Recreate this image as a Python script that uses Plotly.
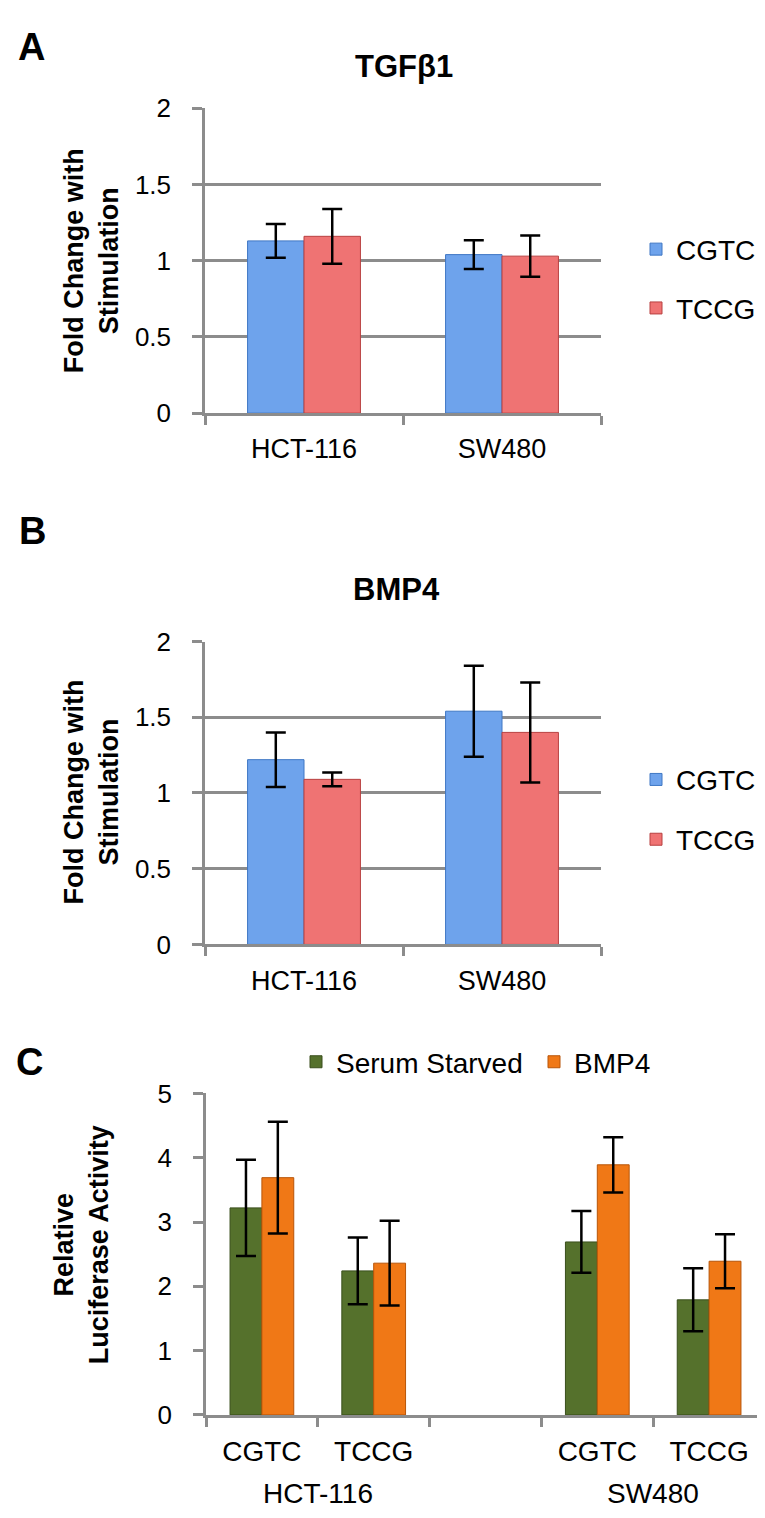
import plotly.graph_objects as go

W, H = 765, 1518
FONT = "Liberation Sans, Arial, sans-serif"

# ---------------- data ----------------
cells = ["HCT-116", "SW480"]

# Panel A: TGFb1
tgf_cgtc = [1.13, 1.04]
tgf_cgtc_err = [0.11, 0.095]
tgf_tccg = [1.16, 1.03]
tgf_tccg_err = [0.18, 0.135]

# Panel B: BMP4
bmp_cgtc = [1.22, 1.54]
bmp_cgtc_err = [0.18, 0.30]
bmp_tccg = [1.09, 1.40]
bmp_tccg_err = [0.045, 0.33]

# Panel C: luciferase
c_categories = ["HCT-116 CGTC", "HCT-116 TCCG", " ", "SW480 CGTC", "SW480 TCCG"]
c_ticktext = ["CGTC", "TCCG", "", "CGTC", "TCCG"]
c_groups = ["HCT-116", "SW480"]
serum_starved = [3.22, 2.24, None, 2.69, 1.79]
serum_starved_err = [0.75, 0.52, None, 0.48, 0.49]
bmp4_stim = [3.69, 2.36, None, 3.89, 2.39]
bmp4_stim_err = [0.87, 0.66, None, 0.43, 0.42]

BLUE, BLUE_L = "#6ea3ec", "#3f77c4"
RED, RED_L = "#ef7373", "#b84040"
GREEN, GREEN_L = "#55712c", "#3a4f1c"
ORANGE, ORANGE_L = "#f07816", "#b85508"
GRID = "#8c8c8c"


def px(x):
    return x / W


def py(y):
    return 1 - y / H


fig = go.Figure()


def add_bar(x, y, err, name, color, line, xa, ya, legend):
    fig.add_trace(go.Bar(
        x=x, y=y, name=name, xaxis=xa, yaxis=ya, legend=legend,
        marker=dict(color=color, line=dict(color=line, width=1)),
        error_y=dict(type="data", array=err, visible=True, color="black",
                     thickness=2.5, width=10),
    ))


add_bar(cells, tgf_cgtc, tgf_cgtc_err, "CGTC", BLUE, BLUE_L, "x", "y", "legend")
add_bar(cells, tgf_tccg, tgf_tccg_err, "TCCG", RED, RED_L, "x", "y", "legend2")
add_bar(cells, bmp_cgtc, bmp_cgtc_err, "CGTC", BLUE, BLUE_L, "x2", "y2", "legend3")
add_bar(cells, bmp_tccg, bmp_tccg_err, "TCCG", RED, RED_L, "x2", "y2", "legend4")
add_bar(c_categories, serum_starved, serum_starved_err, "Serum Starved", GREEN, GREEN_L, "x3", "y3", "legend5")
add_bar(c_categories, bmp4_stim, bmp4_stim_err, "BMP4", ORANGE, ORANGE_L, "x3", "y3", "legend6")

xcommon = dict(type="category", tickson="boundaries", ticks="outside", ticklen=9,
               tickwidth=2.5, tickcolor=GRID, showline=True, linecolor=GRID,
               linewidth=2.5, showgrid=False, zeroline=False,
               tickfont=dict(family=FONT, size=27, color="black"),
               ticklabelstandoff=10, fixedrange=True)
ycommon = dict(ticks="outside", ticklen=10, tickwidth=2.5, tickcolor=GRID,
               showline=True, linecolor=GRID, linewidth=2.5, zeroline=False,
               gridcolor=GRID, gridwidth=2.5,
               tickfont=dict(family=FONT, size=26, color="black"),
               ticklabelstandoff=16, fixedrange=True)

fig.update_layout(
    width=W, height=H,
    margin=dict(l=0, r=0, t=0, b=0),
    paper_bgcolor="white", plot_bgcolor="white",
    showlegend=True,
    barmode="group", bargap=0.43, bargroupgap=0,
    xaxis=dict(xcommon, domain=[px(197), px(593)], anchor="y",
               categoryorder="array", categoryarray=cells),
    yaxis=dict(ycommon, domain=[py(398), py(87)], anchor="x", range=[0, 2],
               tickvals=[0, 0.5, 1, 1.5, 2], ticktext=["0", "0.5", "1", "1.5", "2"],
               showgrid=True),
    xaxis2=dict(xcommon, domain=[px(197), px(593)], anchor="y2",
                categoryorder="array", categoryarray=cells),
    yaxis2=dict(ycommon, domain=[py(940), py(631)], anchor="x2", range=[0, 2],
                tickvals=[0, 0.5, 1, 1.5, 2], ticktext=["0", "0.5", "1", "1.5", "2"],
                showgrid=True),
    xaxis3=dict(xcommon, domain=[px(198), px(757)], anchor="y3",
                categoryorder="array", categoryarray=c_categories,
                tickmode="array", tickvals=c_categories, ticktext=c_ticktext,
                range=[-0.5, 4.5], tickfont=dict(family=FONT, size=28, color="black")),
    yaxis3=dict(ycommon, domain=[py(1420), py(1092)], anchor="x3", range=[0, 5],
                tickvals=[0, 1, 2, 3, 4, 5], showgrid=False),
)

legend_font = dict(family=FONT, size=28, color="black")


def leg(xpix, ypix):
    return dict(x=px(xpix), y=py(ypix), xanchor="left", yanchor="middle",
                font=legend_font, bgcolor="rgba(0,0,0,0)", itemwidth=30,
                orientation="v", visible=True)


fig.update_layout(
    legend=leg(628, 231), legend2=leg(628, 291),
    legend3=leg(628, 772), legend4=leg(628, 833),
    legend5=leg(288, 1060), legend6=leg(526, 1060),
)

ann = []


def add_text(text, x, y, size, xref="paper", angle=0):
    ann.append(dict(text=text, x=x, y=py(y), xref=xref, yref="paper",
                    xanchor="center", yanchor="middle", showarrow=False,
                    textangle=angle, font=dict(family=FONT, size=size, color="black")))


# panel letters
for letter, (x, y) in zip(["A", "B", "C"], [(23, 24), (24, 518), (21, 1060)]):
    add_text(f"<b>{letter}</b>", px(x), y, 38)
# titles
add_text("<b>TGFβ1</b>", px(396), 44, 31)
add_text("<b>BMP4</b>", px(388), 578, 31)
# y titles
for y in [243, 785]:
    add_text("<b>Fold Change with<br>Stimulation</b>", px(83), y, 27, angle=-90)
add_text("<b>Relative<br>Luciferase Activity</b>", px(73), 1247, 27, angle=-90)
# group labels panel C
for i, g in zip([0.5, 3.5], c_groups):
    add_text(g, i, 1500, 28, xref="x3")
fig.update_layout(annotations=ann)

fig.write_html("out.html")
